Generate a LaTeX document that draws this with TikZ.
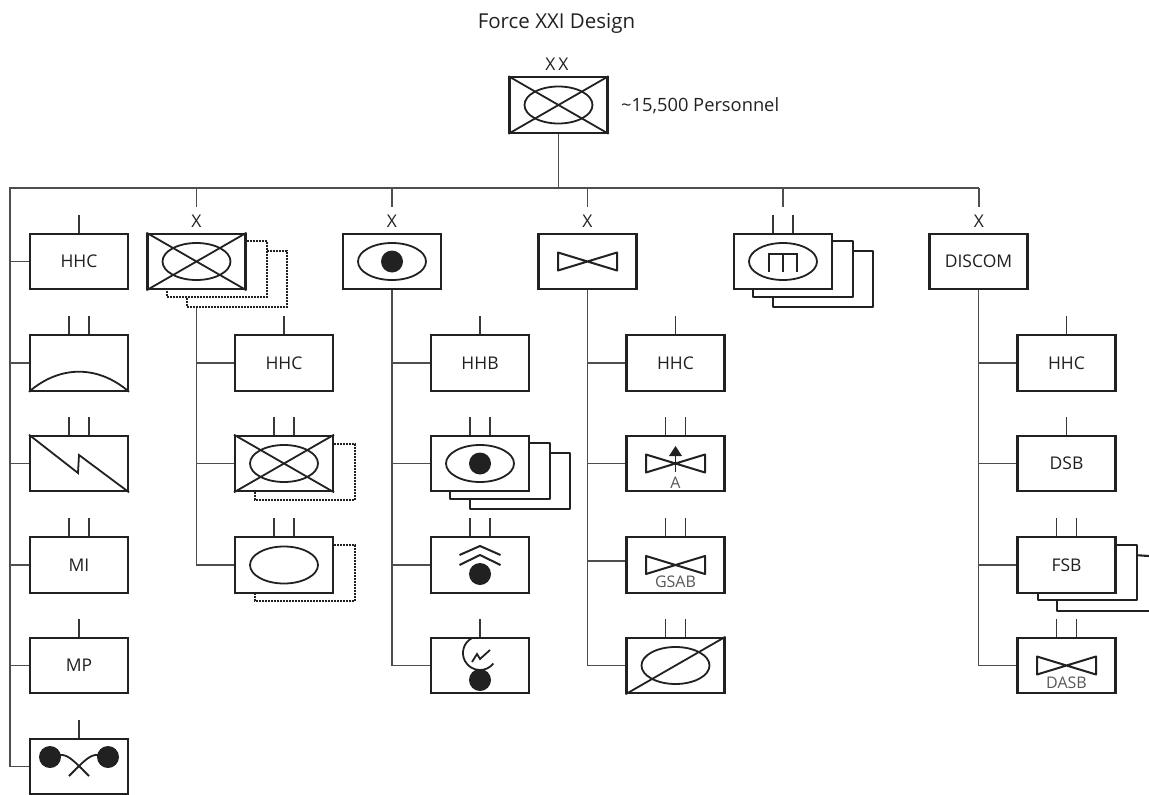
\documentclass[tikz,border=0pt]{standalone}
\usepackage{fontspec}
\setmainfont{Open Sans}
\definecolor{ink}{gray}{0.13}
\tikzset{
  unit/.style={draw=ink,line width=2.1pt,minimum width=98pt,minimum height=55.5pt,inner sep=0pt,fill=white,font=\fontsize{17.5}{19}\selectfont,text=ink},
  link/.style={draw=ink!80,line width=1.5pt},
  stub/.style={draw=ink!90,line width=1.9pt},
  glyph/.style={draw=ink,line width=1.8pt},
  solidedge/.style={draw=ink,line width=2.1pt,line join=round},
  dotedge/.style={draw=ink,line width=2.1pt,dash pattern=on 2pt off 1pt},
  lab/.style={inner sep=0pt,font=\fontsize{17.5}{19}\selectfont,text=ink},
  small/.style={inner sep=0pt,font=\fontsize{16}{18}\selectfont,text=ink!75}
}
\newcommand{\onestub}[1]{\draw[stub] (#1.north) -- +(0,-18);}
\newcommand{\twostub}[1]{\draw[stub] ([xshift=-10pt]#1.north) -- +(0,-18);\draw[stub] ([xshift=10pt]#1.north) -- +(0,-18);}
\newcommand{\ovalsym}[1]{\draw[glyph] (#1.center) ellipse [x radius=34,y radius=18.5];}
\newcommand{\crosssym}[1]{\draw[glyph] (#1.north west) -- (#1.south east) (#1.north east) -- (#1.south west);}
\newcommand{\dotsym}[3]{\fill[ink] ([xshift=#2pt,yshift=#3pt]#1.center) circle [radius=11];}
\newcommand{\tiesym}[2]{\draw[glyph,line width=2pt,line join=round] ([xshift=-29.5pt,yshift=#2pt]#1.center) ++(0,-9) -- ++(59,18) -- ++(0,-18) -- ++(-59,18) -- cycle;}
\newcommand{\stacked}[2]{%
  \draw[#2] (#1.north east) +(0,8) -- +(20,8) -- +(20,64) -- +(-80,64) -- +(-80,55.5);
  \draw[#2] (#1.north east) +(20,18) -- +(40,18) -- +(40,74) -- +(-60,74) -- +(-60,64);}
\begin{document}
\begin{tikzpicture}[x=1pt,y=-1pt]
\useasboundingbox (0,0) rectangle (1149,795);
\node[lab,font=\fontsize{20.5}{22}\selectfont] (title) at (556.5,23) {Force XXI Design};
\node[lab] (xx) at (557,64) {X\hspace{3pt}X};
\node[lab,anchor=west,font=\fontsize{18.3}{20}\selectfont] (pers) at (621,106) {\textasciitilde15,500 Personnel};
% coordinates
\coordinate (busL) at (10,188);
\coordinate (busR) at (979,188);
\coordinate (bus) at (558.5,188);
\coordinate (d1) at (196.5,207);
\coordinate (d2) at (392,207);
\coordinate (d3) at (587.5,207);
\coordinate (d4) at (783,207);
\coordinate (d5) at (979,207);
\coordinate (t1) at (196.5,308);
% top and brigade boxes
\node[unit] (top) at (558.5,105) {};
\node[unit] (a) at (196.5,261.5) {};
\node[unit] (b) at (392,261.5) {};
\node[unit] (c) at (587.5,261.5) {};
\node[unit] (e) at (783,261.5) {};
\node[unit] (f) at (978.5,261.5) {DISCOM};
% left column
\node[unit] (u1) at (79,261.5) {HHC};
\node[unit] (u2) at (79,363) {};
\node[unit] (u3) at (79,463.5) {};
\node[unit] (u4) at (79,565) {MI};
\node[unit] (u5) at (79,665.5) {MP};
\node[unit] (u6) at (79,766.5) {};
% brigade 1
\node[unit] (a1) at (284,363) {HHC};
\node[unit] (a2) at (284,463.5) {};
\node[unit] (a3) at (284,565) {};
% brigade 2
\node[unit] (b1) at (480,363) {HHB};
\node[unit] (b2) at (480,463.5) {};
\node[unit] (b3) at (480,565) {};
\node[unit] (b4) at (480,665.5) {};
% brigade 3
\node[unit] (c1) at (675.5,363) {HHC};
\node[unit] (c2) at (675.5,463.5) {};
\node[unit] (c3) at (675.5,565) {};
\node[unit] (c4) at (675.5,665.5) {};
% discom
\node[unit] (f1) at (1066.5,363) {HHC};
\node[unit] (f2) at (1066.5,463.5) {DSB};
\node[unit] (f3) at (1066.5,565) {FSB};
\node[unit] (f4) at (1066.5,665.5) {};
% X labels
\node[lab] (x1) at (196.5,221) {X};
\node[lab] (x2) at (392,221) {X};
\node[lab] (x3) at (587.5,221) {X};
\node[lab] (x5) at (979,221) {X};
% stacks
\stacked{a}{dotedge}
\draw[dotedge] (a2.north east) +(0,9) -- +(21,9) -- +(21,65) -- +(-79,65) -- +(-79,55.5);
\draw[dotedge] (a3.north east) +(0,9) -- +(21,9) -- +(21,65) -- +(-79,65) -- +(-79,55.5);
\stacked{b2}{solidedge}
\stacked{e}{solidedge}
\coordinate (edgeA) at (1149,556);
\coordinate (edgeB) at (1149,611);
\draw[solidedge] (f3.north east) +(0,9) -- +(20,9) -- +(20,64) -- +(-79,64) -- +(-79,55.5);
\draw[solidedge] (f3.north east) +(20,19) -- (edgeA);
\draw[solidedge] (edgeB) -- +(-92,0) -- +(-92,-10);
% connectors
\draw[link] (top.south) -- (bus);
\draw[link] (busR) -- (busL) |- (u6.west);
\foreach \n in {u1,u2,u3,u4,u5} {\draw[link] (busL |- \n.west) -- (\n.west);}
\foreach \n in {d1,d2,d3,d4,d5} {\draw[link] (bus -| \n) -- (\n);}
\draw[link] (t1) |- (a3.west);
\foreach \n in {a1,a2} {\draw[link] (t1 |- \n.west) -- (\n.west);}
\draw[link] (b.south) |- (b4.west);
\foreach \n in {b1,b2,b3} {\draw[link] (b.south |- \n.west) -- (\n.west);}
\draw[link] (c.south) |- (c4.west);
\foreach \n in {c1,c2} {\draw[link] (c.south |- \n.west) -- (\n.west);}
\draw[link] (c.south |- 0,561) -- (c3.west |- 0,561);
\draw[link] (f.south) |- (f4.west);
\foreach \n in {f1,f2,f3} {\draw[link] (f.south |- \n.west) -- (\n.west);}
% stubs
\foreach \n in {u1,u5,u6,a1,b1,b4,c1,f1,f2} {\onestub{\n}}
\foreach \n in {u2,u3,u4,a2,a3,b2,b3,c2,c3,c4,e,f3,f4} {\twostub{\n}}
% symbols
\ovalsym{top}\crosssym{top}
\ovalsym{a}\crosssym{a}
\ovalsym{a2}\crosssym{a2}
\ovalsym{a3}
\ovalsym{b}\dotsym{b}{0}{0}
\ovalsym{b2}\dotsym{b2}{0}{0}
\tiesym{c}{0}
\ovalsym{e}
\draw[glyph,line width=2.8pt] ([xshift=-14pt,yshift=-10.5pt]e.center) -- ++(0,-18) -- ++(28,0) -- ++(0,18);
\draw[glyph,line width=2.8pt] ([yshift=-10.5pt]e.center) -- ++(0,-18);
% curved base
\draw[glyph] (u2.south west) .. controls (60,365) and (98,365) .. (u2.south east);
% lightning
\draw[glyph] (u3.north west) -- (78,473) -- (79,455) -- (u3.south east);
% two dots and crossing
\fill[ink] (50,757) circle [radius=11] (108,757) circle [radius=11];
\draw[glyph] (60,755) .. controls (68,754) and (75,762) .. (89,776);
\draw[glyph] (98,755) .. controls (90,754) and (83,762) .. (69,776);
% chevrons
\draw[glyph,line width=2pt] (459.5,555) -- (480,546) -- (500.5,555);
\draw[glyph,line width=2pt] (459.5,565) -- (480,555) -- (500.5,565);
\fill[ink] (480,574) circle [radius=11];
% radar
\draw[glyph] (472,638) arc [start angle=-118,end angle=-322,radius=17];
\draw[glyph] (472,662) -- (477,654) -- (480,659) -- (490,650);
\fill[ink] (480,680) circle [radius=11];
% brigade 3 children
\tiesym{c2}{0}
\draw[glyph] (675.5,472) -- (675.5,449);
\fill[ink] (669,456) -- (675.5,446) -- (682,456) -- cycle;
\node[small] (al) at (675.5,483) {A};
\tiesym{c3}{0}
\node[small] (gl) at (675.5,582) {GSAB};
\ovalsym{c4}
\draw[glyph] (c4.south west) -- (c4.north east);
\tiesym{f4}{0}
\node[small] (dl) at (1066.5,683) {DASB};
\end{tikzpicture}
\end{document}
